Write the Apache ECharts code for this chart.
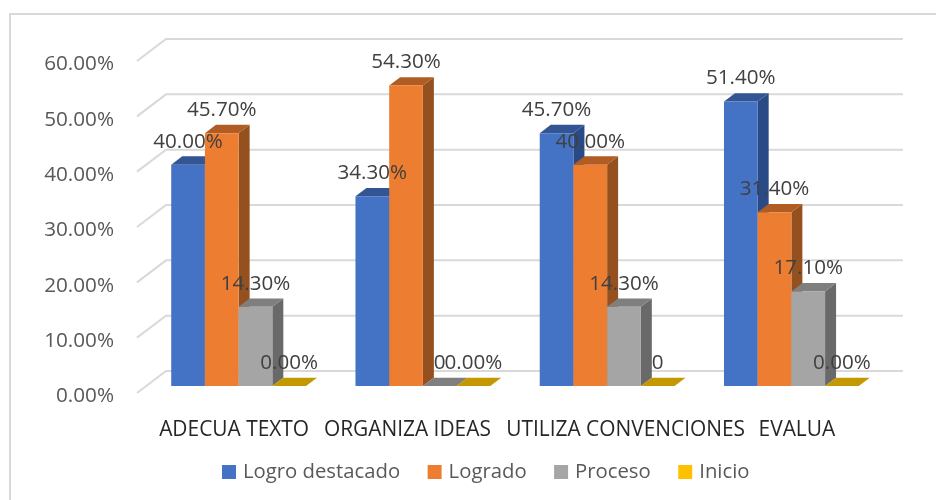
<!DOCTYPE html>
<html>
<head>
<meta charset="utf-8">
<style>
  html, body { margin: 0; padding: 0; background: #fff; }
  #chart { width: 936px; height: 500px; }
</style>
</head>
<body>
<div id="chart"></div>
<script src="https://cdn.jsdelivr.net/npm/echarts@6/dist/echarts.min.js"></script>
<script>
const categories = ['ADECUA TEXTO', 'ORGANIZA IDEAS', 'UTILIZA CONVENCIONES', 'EVALUA'];
const yTicks = [0, 10, 20, 30, 40, 50, 60];

const logroValues = [40.0, 34.3, 45.7, 51.4];
const logradoValues = [45.7, 54.3, 40.0, 31.4];
const procesoValues = [14.3, 0, 14.3, 17.1];
const inicioValues = [0, 0, 0, 0];

// printed text of each data label, some zeros are shown as a bare 0 in the original
const logroLabels = ['40.00%', '34.30%', '45.70%', '51.40%'];
const logradoLabels = ['45.70%', '54.30%', '40.00%', '31.40%'];
const procesoLabels = ['14.30%', '0', '14.30%', '17.10%'];
const inicioLabels = ['0.00%', '0.00%', '0', '0.00%'];

const FONT = '"Open Sans", "Noto Sans", sans-serif';
const BAR_W = 33.7;
// the fake 3D: wall depth, bar depth and where the bars stand on the floor
const WALL_DX = 29, WALL_DY = 22;
const BAR_DX = 11, BAR_DY = 8.3;
const FLOOR_DX = 9.5, FLOOR_DY = 7;
// category labels are not centred on their groups in the original: [left, right] padding
const labelPadding = [[10, 0], [0, 12], [56, 0], [30, 0]];

function barSeries(name, index, values, labels, front, top, side) {
    return {
        name,
        type: 'custom',
        coordinateSystem: 'cartesian2d',
        itemStyle: { color: front },
        data: values.map((v, i) => [i, v]),
        renderItem(params, api) {
            const base = api.coord([api.value(0), 0])
            const head = api.coord([api.value(0), api.value(1)])
            const x0 = base[0] + FLOOR_DX + (index - 2) * BAR_W
            const x1 = x0 + BAR_W
            const y0 = base[1] - FLOOR_DY
            const y1 = head[1] - FLOOR_DY
            return {
                type: 'group',
                children: [
                    {
                        type: 'polygon',
                        shape: { points: [[x1, y1], [x1 + BAR_DX, y1 - BAR_DY], [x1 + BAR_DX, y0 - BAR_DY], [x1, y0]] },
                        style: { fill: side }
                    },
                    {
                        type: 'polygon',
                        shape: { points: [[x0, y1], [x0 + BAR_DX, y1 - BAR_DY], [x1 + BAR_DX, y1 - BAR_DY], [x1, y1]] },
                        style: { fill: top }
                    },
                    {
                        type: 'rect',
                        shape: { x: x0, y: y1, width: BAR_W, height: y0 - y1 },
                        style: { fill: front }
                    },
                    {
                        type: 'text',
                        z2: 100,
                        style: {
                            text: labels[api.value(0)],
                            x: (x0 + x1) / 2,
                            y: y1 - 23,
                            fill: '#404040',
                            font: '20.6px ' + FONT,
                            textAlign: 'center',
                            textVerticalAlign: 'middle'
                        }
                    }
                ]
            }
        }
    }
}

const gridSeries = {
    type: 'custom',
    coordinateSystem: 'cartesian2d',
    silent: true,
    data: yTicks.map(v => [0, v]),
    renderItem(params, api) {
        const y = api.coord([0, api.value(1)])[1]
        const left = params.coordSys.x
        const right = left + params.coordSys.width + WALL_DX
        return {
            type: 'polyline',
            shape: { points: [[left, y], [left + WALL_DX, y - WALL_DY], [right, y - WALL_DY]] },
            style: { stroke: '#d9d9d9', lineWidth: 2, fill: 'none' }
        }
    }
};

const rich = {};
labelPadding.forEach((p, i) => {
    rich['c' + i] = { padding: [0, p[1], 0, p[0]], fontFamily: FONT, fontSize: 20.9, color: '#262626' }
});

const option = {
    animation: false,
    backgroundColor: '#fff',
    graphic: [{
        type: 'rect',
        shape: { x: 10, y: 14, width: 1000, height: 600 },
        style: { fill: 'none', stroke: '#d9d9d9', lineWidth: 2 },
        silent: true
    }],
    legend: {
        data: ['Logro destacado', 'Logrado', 'Proceso', 'Inicio'],
        left: 217,
        top: 457,
        icon: 'rect',
        itemWidth: 14,
        itemHeight: 14,
        itemGap: 27.5,
        textStyle: { fontFamily: FONT, fontSize: 20.3, color: '#595959', padding: [0, 0, 0, 2] }
    },
    grid: { left: 137, top: 61, width: 737, height: 332 },
    xAxis: {
        type: 'category',
        data: categories,
        axisLine: { show: false },
        axisTick: { show: false },
        axisLabel: {
            interval: 0,
            margin: 27,
            formatter: (v, i) => `{c${i}|${v}}`,
            rich
        }
    },
    yAxis: {
        type: 'value',
        min: 0,
        max: 60,
        interval: 10,
        axisLine: { show: false },
        axisTick: { show: false },
        splitLine: { show: false },
        axisLabel: {
            margin: 23,
            formatter: v => `{v|${v.toFixed(2)}%}`,
            rich: {
                // the tick labels sit a little below their ticks in the original
                v: { padding: [7, 0, 0, 0], color: '#595959', fontFamily: FONT, fontSize: 20.7 }
            }
        }
    },
    series: [
        gridSeries,
        barSeries('Logro destacado', 0, logroValues, logroLabels, '#4472c4', '#335593', '#2a4a85'),
        barSeries('Logrado', 1, logradoValues, logradoLabels, '#ed7d31', '#b05c22', '#94501f'),
        barSeries('Proceso', 2, procesoValues, procesoLabels, '#a5a5a5', '#7f7f7f', '#696969'),
        barSeries('Inicio', 3, inicioValues, inicioLabels, '#ffc000', '#c49800', '#9c7900')
    ]
};

const chart = echarts.init(document.getElementById('chart'));
chart.setOption(option);
</script>
</body>
</html>
